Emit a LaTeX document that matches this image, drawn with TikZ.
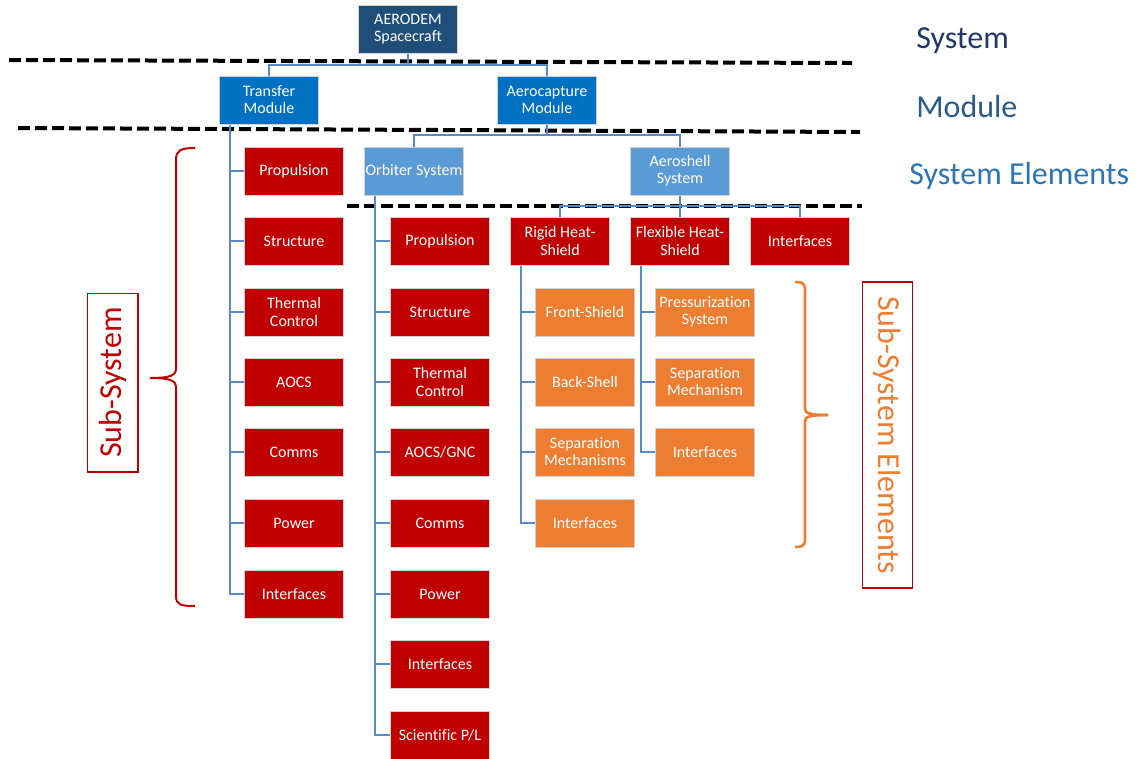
\documentclass[tikz,border=0pt]{standalone}
\usepackage{fontspec}
\setmainfont{Carlito}[Ligatures=NoCommon]
\usetikzlibrary{calc}
\definecolor{dkblue}{HTML}{1F4E79}
\definecolor{modblue}{HTML}{0070C0}
\definecolor{ltblue}{HTML}{5B9BD5}
\definecolor{ssred}{HTML}{C00000}
\definecolor{ssorange}{HTML}{ED7D31}
\definecolor{connc}{HTML}{5A8AC6}
\definecolor{lblsys}{HTML}{1F3864}
\definecolor{lblmod}{HTML}{2A5A8A}
\definecolor{lblel}{HTML}{2E75B6}
\begin{document}
\begin{tikzpicture}[x=0.75pt,y=-0.75pt,
  box/.style={draw=black!18, line width=0.75pt, minimum width=74.25pt, minimum height=36pt,
    inner sep=0pt, align=center, text=white, font=\fontsize{12}{12.8}\selectfont},
  sysbox/.style={box, fill=dkblue},
  modbox/.style={box, fill=modblue},
  elbox/.style={box, fill=ltblue},
  ssbox/.style={box, fill=ssred},
  sebox/.style={box, fill=ssorange},
  conn/.style={draw=connc, line width=1.5pt},
  sep/.style={draw=black, line width=3pt, dash pattern=on 9pt off 3.75pt},
  lbl/.style={font=\fontsize{24}{28}\selectfont, inner sep=0pt},
  brace/.style={line width=1.5pt}
]
\useasboundingbox (0,0) rectangle (1146,758);

% separators
\draw[sep] (9,60) -- (852,63);
\draw[sep] (18,128) -- (860,132);
\draw[sep] (347,206) -- (862,206);

% top levels
\node[sysbox] (sc) at (408,29) {AERODEM\\Spacecraft};
\node[modbox] (tm) at (269,100) {Transfer\\Module};
\node[modbox] (am) at (547,100) {Aerocapture\\Module};
\node[elbox] (os) at (414,171) {Orbiter System};
\node[elbox] (as) at (680,171) {Aeroshell\\System};

% transfer module sub-systems
\node[ssbox] (t1) at (294,171) {Propulsion};
\node[ssbox] (t2) at (294,241) {Structure};
\node[ssbox] (t3) at (294,312) {Thermal\\Control};
\node[ssbox] (t4) at (294,382) {AOCS};
\node[ssbox] (t5) at (294,452) {Comms};
\node[ssbox] (t6) at (294,523) {Power};
\node[ssbox] (t7) at (294,594) {Interfaces};

% orbiter sub-systems
\node[ssbox] (o1) at (440,241) {Propulsion};
\node[ssbox] (o2) at (440,312) {Structure};
\node[ssbox] (o3) at (440,382) {Thermal\\Control};
\node[ssbox] (o4) at (440,452) {AOCS/GNC};
\node[ssbox] (o5) at (440,523) {Comms};
\node[ssbox] (o6) at (440,594) {Power};
\node[ssbox] (o7) at (440,664) {Interfaces};
\node[ssbox] (o8) at (440,735) {Scientific P/L};

% aeroshell sub-systems
\node[ssbox] (rh) at (560,241) {Rigid Heat-\\Shield};
\node[ssbox] (fh) at (680,241) {Flexible Heat-\\Shield};
\node[ssbox] (ai) at (800,241) {Interfaces};

% sub-system elements
\node[sebox] (r1) at (585,312) {Front-Shield};
\node[sebox] (r2) at (585,382) {Back-Shell};
\node[sebox] (r3) at (585,452) {Separation\\Mechanisms};
\node[sebox] (r4) at (585,523) {Interfaces};
\node[sebox] (f1) at (705,312) {Pressurization\\System};
\node[sebox] (f2) at (705,382) {Separation\\Mechanism};
\node[sebox] (f3) at (705,452) {Interfaces};

% connectors
\draw[conn] (sc.south) -- ++(0,11) coordinate (j1);
\draw[conn] (tm.north) |- (j1) -| (am.north);
\draw[conn] (am.south) -- ++(0,10) coordinate (j2);
\draw[conn] (os.north) |- (j2) -| (as.north);
\coordinate (j3) at ($(as.south)!0.5!(fh.north)$);
\draw[conn] (as.south) -- (fh.north);
\draw[conn] (rh.north) |- (j3) -| (ai.north);

\coordinate (tmb) at ($(tm.south west)+(10.5,0)$);
\draw[conn] (tmb) |- (t7.west);
\foreach \i in {1,...,6} \draw[conn] (t\i.west) -- (t\i.west -| tmb);

\coordinate (osb) at ($(os.south west)+(10.5,0)$);
\draw[conn] (osb) |- (o8.west);
\foreach \i in {1,...,7} \draw[conn] (o\i.west) -- (o\i.west -| osb);

\coordinate (rhb) at ($(rh.south west)+(10.5,0)$);
\draw[conn] (rhb) |- (r4.west);
\foreach \i in {1,...,3} \draw[conn] (r\i.west) -- (r\i.west -| rhb);

\coordinate (fhb) at ($(fh.south west)+(10.5,0)$);
\draw[conn] (fhb) |- (f3.west);
\foreach \i in {1,2} \draw[conn] (f\i.west) -- (f\i.west -| fhb);

% level labels
\node[lbl, text=lblsys, anchor=west] (lsys) at (916,41) {System};
\node[lbl, text=lblmod, anchor=west] (lmod) at (916,107) {Module};
\node[lbl, text=lblel, anchor=west] (lel) at (909,176) {System Elements};

% sub-system brace and label
\draw[brace, draw=ssred] (195,148) .. controls (181,148) and (176,150) .. (176,160) -- (176,368)
  .. controls (176,375) and (172,378) .. (150,378);
\draw[brace, draw=ssred] (150,378) .. controls (172,378) and (176,381) .. (176,388) -- (176,596)
  .. controls (176,605) and (181,606) .. (195,606);
\node[draw=ssred, line width=1pt, rotate=90, minimum width=134pt, minimum height=38pt,
  inner sep=0pt, text=ssred, font=\fontsize{24}{28}\selectfont] (lss) at (112.5,382.5) {Sub-System};

% sub-system elements brace and label
\draw[brace, draw=ssorange, line width=2pt] (795,282) .. controls (802,282) and (805,283) .. (805,290) -- (805,408)
  .. controls (805,413) and (808,415) .. (828,415);
\draw[brace, draw=ssorange, line width=2pt] (828,415) .. controls (808,415) and (805,417) .. (805,422) -- (805,539)
  .. controls (805,546) and (802,547) .. (795,547);
\node[draw=ssred, line width=1pt, rotate=-90, minimum width=229.5pt, minimum height=37.5pt,
  inner sep=0pt, text=ssorange, font=\fontsize{24}{28}\selectfont] (lse) at (887.5,435) {Sub-System Elements};
\end{tikzpicture}
\end{document}
